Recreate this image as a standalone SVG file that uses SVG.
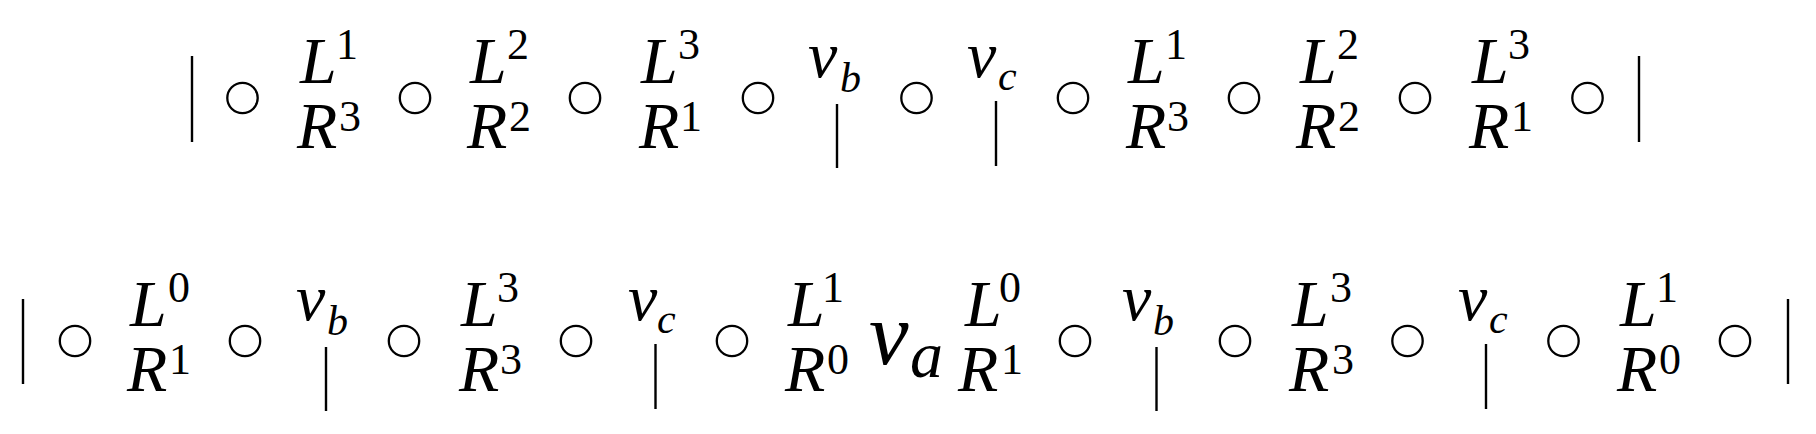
<svg xmlns="http://www.w3.org/2000/svg" width="1816" height="434" viewBox="0 0 1816 434">
<style>
.m{font-family:"Liberation Serif",serif;font-style:italic;font-size:66px;fill:#000}
.d{font-style:normal;font-size:44px}
.sb{font-size:42px}
.va{font-family:"Liberation Serif",serif;font-style:italic;font-size:89px;fill:#000}
.vas{font-size:66px}
.o{fill:none;stroke:#000;stroke-width:2.3}
.bar{stroke:#000;stroke-width:2.4;fill:none}
</style>
<rect width="1816" height="434" fill="#fff"/>
<g id="connectors">
  <line class="bar" x1="192" y1="56" x2="192" y2="142"/>
  <line class="bar" x1="1639" y1="56" x2="1639" y2="142"/>
  <line class="bar" x1="837" y1="104" x2="837" y2="168"/>
  <line class="bar" x1="996" y1="101" x2="996" y2="166"/>
  <line class="bar" x1="23" y1="299" x2="23" y2="384"/>
  <line class="bar" x1="1788" y1="299" x2="1788" y2="384"/>
  <line class="bar" x1="326" y1="347" x2="326" y2="411"/>
  <line class="bar" x1="655.5" y1="344" x2="655.5" y2="409"/>
  <line class="bar" x1="1156.5" y1="347" x2="1156.5" y2="411"/>
  <line class="bar" x1="1486" y1="344" x2="1486" y2="409"/>
</g>
<g id="circles">
  <circle class="o" cx="242.5" cy="98" r="15.2"/>
  <circle class="o" cx="415" cy="98" r="15.2"/>
  <circle class="o" cx="585" cy="98" r="15.2"/>
  <circle class="o" cx="758" cy="98" r="15.2"/>
  <circle class="o" cx="916.5" cy="98" r="15.2"/>
  <circle class="o" cx="1073" cy="98" r="15.2"/>
  <circle class="o" cx="1244" cy="98" r="15.2"/>
  <circle class="o" cx="1415" cy="98" r="15.2"/>
  <circle class="o" cx="1587.5" cy="98" r="15.2"/>
  <circle class="o" cx="75" cy="341" r="15.2"/>
  <circle class="o" cx="245" cy="341" r="15.2"/>
  <circle class="o" cx="404" cy="341" r="15.2"/>
  <circle class="o" cx="576" cy="341" r="15.2"/>
  <circle class="o" cx="732" cy="341" r="15.2"/>
  <circle class="o" cx="1075" cy="341" r="15.2"/>
  <circle class="o" cx="1235" cy="341" r="15.2"/>
  <circle class="o" cx="1407.5" cy="341" r="15.2"/>
  <circle class="o" cx="1563.5" cy="341" r="15.2"/>
  <circle class="o" cx="1735" cy="341" r="15.2"/>
</g>
<!-- Row 1 -->
<g id="r1n1"><text class="m"><tspan x="300" y="83">L</tspan><tspan class="d" x="336" y="59">1</tspan><tspan x="297" y="148">R</tspan><tspan class="d" x="339" y="131">3</tspan></text></g>
<g id="r1n2"><text class="m"><tspan x="470" y="83">L</tspan><tspan class="d" x="507" y="59">2</tspan><tspan x="467" y="148">R</tspan><tspan class="d" x="509" y="131">2</tspan></text></g>
<g id="r1n3"><text class="m"><tspan x="641" y="83">L</tspan><tspan class="d" x="678" y="59">3</tspan><tspan x="639" y="148">R</tspan><tspan class="d" x="680" y="131">1</tspan></text></g>
<g id="r1vb"><text class="m"><tspan x="808" y="77">v</tspan><tspan class="sb" x="840" y="92">b</tspan></text></g>
<g id="r1vc"><text class="m"><tspan x="967" y="77">v</tspan><tspan class="sb" x="998" y="90">c</tspan></text></g>
<g id="r1n4"><text class="m"><tspan x="1128" y="83">L</tspan><tspan class="d" x="1165" y="59">1</tspan><tspan x="1126" y="148">R</tspan><tspan class="d" x="1167" y="131">3</tspan></text></g>
<g id="r1n5"><text class="m"><tspan x="1300" y="83">L</tspan><tspan class="d" x="1337" y="59">2</tspan><tspan x="1296" y="148">R</tspan><tspan class="d" x="1338" y="131">2</tspan></text></g>
<g id="r1n6"><text class="m"><tspan x="1472" y="83">L</tspan><tspan class="d" x="1508" y="59">3</tspan><tspan x="1469" y="148">R</tspan><tspan class="d" x="1511" y="131">1</tspan></text></g>
<!-- Row 2 -->
<g id="r2n1"><text class="m"><tspan x="130" y="326">L</tspan><tspan class="d" x="168" y="302">0</tspan><tspan x="127" y="391">R</tspan><tspan class="d" x="169" y="374">1</tspan></text></g>
<g id="r2vb1"><text class="m"><tspan x="296" y="320">v</tspan><tspan class="sb" x="327" y="335">b</tspan></text></g>
<g id="r2n2"><text class="m"><tspan x="461" y="326">L</tspan><tspan class="d" x="497" y="302">3</tspan><tspan x="459" y="391">R</tspan><tspan class="d" x="500" y="374">3</tspan></text></g>
<g id="r2vc1"><text class="m"><tspan x="628" y="320">v</tspan><tspan class="sb" x="657" y="333">c</tspan></text></g>
<g id="r2n3"><text class="m"><tspan x="788" y="326">L</tspan><tspan class="d" x="822" y="302">1</tspan><tspan x="785" y="391">R</tspan><tspan class="d" x="827" y="374">0</tspan></text></g>
<g id="r2va"><text class="va"><tspan x="869" y="364">v</tspan><tspan class="vas" x="910" y="377">a</tspan></text></g>
<g id="r2n4"><text class="m"><tspan x="965" y="326">L</tspan><tspan class="d" x="999" y="302">0</tspan><tspan x="958" y="391">R</tspan><tspan class="d" x="1001" y="374">1</tspan></text></g>
<g id="r2vb2"><text class="m"><tspan x="1122" y="320">v</tspan><tspan class="sb" x="1153" y="335">b</tspan></text></g>
<g id="r2n5"><text class="m"><tspan x="1292" y="326">L</tspan><tspan class="d" x="1330" y="302">3</tspan><tspan x="1289" y="391">R</tspan><tspan class="d" x="1332" y="374">3</tspan></text></g>
<g id="r2vc2"><text class="m"><tspan x="1458" y="320">v</tspan><tspan class="sb" x="1489" y="333">c</tspan></text></g>
<g id="r2n6"><text class="m"><tspan x="1620" y="326">L</tspan><tspan class="d" x="1656" y="302">1</tspan><tspan x="1617" y="391">R</tspan><tspan class="d" x="1659" y="374">0</tspan></text></g>
</svg>
